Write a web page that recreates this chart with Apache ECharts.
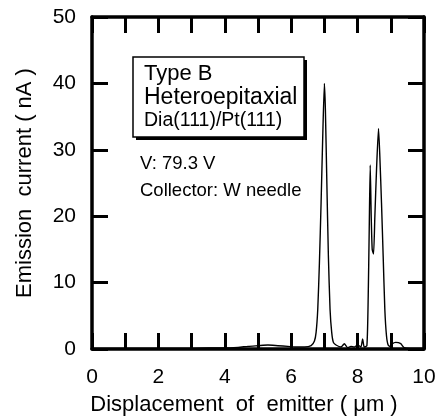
<!DOCTYPE html>
<html>
<head>
<meta charset="utf-8">
<script src="https://cdn.jsdelivr.net/npm/echarts@6/dist/echarts.min.js"></script>
<style>
  html, body { margin: 0; padding: 0; background: #fff; }
  #chart { width: 438px; height: 419px; }
</style>
</head>
<body>
<div id="chart"></div>
<script>
// displacement (um) and emission current (nA)
const displacement = [
  0, 0.5, 1, 1.5, 2, 2.5, 3, 3.5, 4, 4.4, 4.7, 5, 5.3, 5.6, 5.9, 6.1, 6.4, 6.6,
  6.7, 6.75, 6.8, 6.85, 6.9, 6.95, 7.0, 7.03, 7.07, 7.12, 7.17, 7.22, 7.27,
  7.35, 7.5, 7.6, 7.7, 7.8, 7.9, 8.0, 8.1, 8.15, 8.2, 8.28, 8.32, 8.35, 8.38,
  8.41, 8.44, 8.48, 8.52, 8.57, 8.63, 8.67, 8.72, 8.77, 8.82, 8.87, 8.92,
  9.0, 9.05, 9.15, 9.3, 9.4, 9.6, 10
];
const current = [
  0.1, 0.1, 0.1, 0.1, 0.1, 0.1, 0.1, 0.15, 0.15, 0.25, 0.4, 0.5, 0.6, 0.5, 0.4, 0.3, 0.3, 0.5,
  1.2, 2.5, 6, 13, 22, 32, 40, 36, 26, 14, 6, 2.5, 1,
  0.6, 0.3, 0.8, 0.2, 0.4, 0.3, 0.6, 0.3, 1.5, 0.3, 0.5, 8, 18, 27.7,
  20, 15, 14.3, 20, 27, 33.2, 29, 22, 14, 6, 2, 0.6,
  0.3, 0.8, 1.0, 0.8, 0.2, 0.1, 0.1
];
const xTicks = [0, 2, 4, 6, 8, 10];
const yTicks = [0, 10, 20, 30, 40, 50];
const boxLines = ["Type B", "Heteroepitaxial", "Dia(111)/Pt(111)"];
const noteLines = ["V: 79.3 V", "Collector: W needle"];

const font = '"Liberation Sans", Arial, Helvetica, sans-serif';
const myChart = echarts.init(document.getElementById("chart"));

const frameAxis = {
  axisLine: { show: true, onZero: false, lineStyle: { color: "#000", width: 3.5 } },
  axisTick: { show: true, inside: true, length: 16, lineStyle: { color: "#000", width: 3 } },
  splitLine: { show: false },
};

const option = {
  animation: false,
  grid: { left: 92, right: 14, top: 17, bottom: 70, containLabel: false, outerBoundsMode: "none" },
  xAxis: [
    {
      ...frameAxis,
      type: "value",
      min: 0,
      max: 10,
      interval: 1,
      name: "Displacement  of  emitter ( \u03bcm )",
      nameLocation: "middle",
      nameGap: 45,
      nameMoveOverlap: false,
      nameTextStyle: { color: "#000", fontSize: 22, fontFamily: font, padding: [0, 28, 0, 0] },
      axisLabel: {
        color: "#000",
        fontSize: 21,
        fontFamily: font,
        margin: 18,
        formatter: (v) => (xTicks.includes(v) ? String(v) : ""),
      },
    },
    {
      ...frameAxis,
      type: "value",
      position: "top",
      min: 0,
      max: 10,
      interval: 1,
      axisLabel: { show: false },
    },
  ],
  yAxis: [
    {
      ...frameAxis,
      type: "value",
      min: 0,
      max: 50,
      interval: 10,
      name: "Emission  current ( nA )",
      nameLocation: "middle",
      nameGap: 56,
      nameMoveOverlap: false,
      nameTextStyle: { color: "#000", fontSize: 22, fontFamily: font },
      axisLabel: {
        color: "#000",
        fontSize: 21,
        fontFamily: font,
        margin: 16,
        padding: [8, 0, 0, 0],
        formatter: (v) => (yTicks.includes(v) ? String(v) : ""),
      },
    },
    {
      ...frameAxis,
      type: "value",
      position: "right",
      min: 0,
      max: 50,
      interval: 10,
      axisLabel: { show: false },
    },
  ],
  graphic: [
    // label box with a drop shadow
    { type: "rect", shape: { x: 136, y: 60, width: 171, height: 80 }, style: { fill: "#000" }, z: 10 },
    { type: "rect", shape: { x: 133, y: 57, width: 171, height: 80 }, style: { fill: "#fff", stroke: "#000", lineWidth: 1.5 }, z: 11 },
    { type: "text", left: 144, top: 63, style: { text: boxLines[0], font: "22px " + font, fill: "#000" }, z: 12 },
    { type: "text", left: 144, top: 86, style: { text: boxLines[1], font: "23px " + font, fill: "#000" }, z: 12 },
    { type: "text", left: 144, top: 111, style: { text: boxLines[2], font: "19.5px " + font, fill: "#000" }, z: 12 },
    { type: "text", left: 140, top: 154, style: { text: noteLines[0], font: "18.5px " + font, fill: "#000" }, z: 12 },
    { type: "text", left: 140, top: 181, style: { text: noteLines[1], font: "18.5px " + font, fill: "#000" }, z: 12 },
  ],
  series: [
    {
      type: "line",
      data: displacement.map((x, i) => [x, current[i]]),
      showSymbol: false,
      smooth: 0.2,
      lineStyle: { color: "#000", width: 1.4 },
      clip: true,
    },
  ],
};

option && myChart.setOption(option);
</script>
</body>
</html>
